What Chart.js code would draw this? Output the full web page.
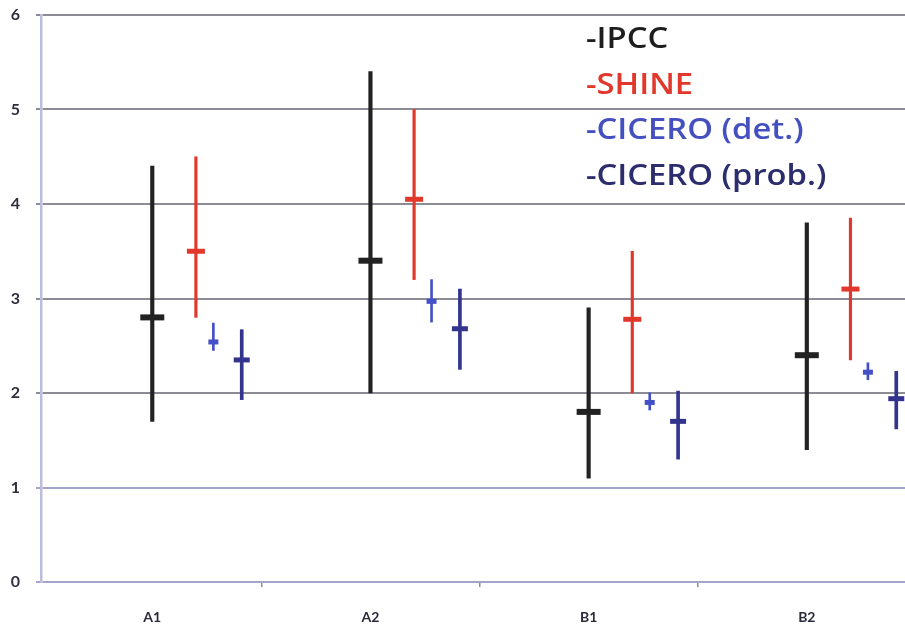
<!DOCTYPE html>
<html>
<head>
<meta charset="utf-8">
<script src="https://cdn.jsdelivr.net/npm/chart.js@4.4.1/dist/chart.umd.min.js"></script>
<style>
    html, body { margin: 0; padding: 0; background: #fff; }
    #wrap { width: 905px; height: 628px; }
</style>
</head>
<body>
<div id="wrap"><canvas id="rangeChart"></canvas></div>
<script>
// Scenarios along the x axis
const scenarios = ['A1', 'A2', 'B1', 'B2'];
const yTicks = [0, 1, 2, 3, 4, 5, 6];

// IPCC
const ipccLow  = [1.7, 2.0, 1.1, 1.4];
const ipccHigh = [4.4, 5.4, 2.9, 3.8];
const ipccMid  = [2.8, 3.4, 1.8, 2.4];

// SHINE
const shineLow  = [2.8, 3.2, 2.0, 2.35];
const shineHigh = [4.5, 5.0, 3.5, 3.85];
const shineMid  = [3.5, 4.05, 2.78, 3.1];

// CICERO (det.)
const detLow  = [2.45, 2.75, 1.82, 2.14];
const detHigh = [2.74, 3.2, 2.0, 2.32];
const detMid  = [2.54, 2.97, 1.9, 2.22];

// CICERO (prob.)
const probLow  = [1.93, 2.25, 1.3, 1.62];
const probHigh = [2.67, 3.1, 2.02, 2.23];
const probMid  = [2.35, 2.68, 1.7, 1.94];

// series layout: offset from the scenario position, colours and widths
const series = [
    { label: '-IPCC',           low: ipccLow,  high: ipccHigh,  mid: ipccMid,  offset: 0,    color: '#222222', text: '#1e1e1e', line: 3.5, cap: 12, capW: 6 },
    { label: '-SHINE',          low: shineLow, high: shineHigh, mid: shineMid, offset: 0.2,  color: '#e2372b', text: '#e2372b', line: 2.5, cap: 9,  capW: 5 },
    { label: '-CICERO (det.)',  low: detLow,   high: detHigh,   mid: detMid,   offset: 0.28, color: '#4450c8', text: '#4450c0', line: 2,   cap: 5,  capW: 5 },
    { label: '-CICERO (prob.)', low: probLow,  high: probHigh,  mid: probMid,  offset: 0.41, color: '#33348e', text: '#2b2d6c', line: 3,   cap: 8,  capW: 5 }
];

const datasets = [];
series.forEach(function(s) {
    datasets.push({
        type: 'bar',
        label: s.label,
        data: scenarios.map(function(_, i) { return { x: i + s.offset, y: [s.low[i], s.high[i]] }; }),
        backgroundColor: s.color,
        barThickness: s.line,
        grouped: false,
        order: 2
    });
    datasets.push({
        type: 'scatter',
        label: s.label + ' mid',
        data: scenarios.map(function(_, i) { return { x: i + s.offset, y: s.mid[i] }; }),
        pointStyle: 'line',
        pointRadius: s.cap,
        borderColor: s.color,
        pointBorderWidth: s.capW,
        order: 1
    });
});

// text legend drawn in the upper right of the plot, slightly widened
const textLegend = {
    id: 'textLegend',
    afterDraw: function(chart) {
        const ctx = chart.ctx;
        const rows = [40, 86, 131, 177];
        series.forEach(function(s, i) {
            ctx.save();
            ctx.translate(586, rows[i]);
            ctx.scale(1.13, 1);
            ctx.font = '600 29px "Open Sans", Lato, sans-serif';
            ctx.textBaseline = 'middle';
            ctx.textAlign = 'left';
            ctx.fillStyle = s.text;
            ctx.fillText(s.label, 0, 0);
            ctx.restore();
        });
    }
};

new Chart(document.getElementById('rangeChart').getContext('2d'), {
    data: { datasets: datasets },
    options: {
        responsive: true,
        maintainAspectRatio: false,
        animation: false,
        layout: { autoPadding: false, padding: { top: 15, right: 0, left: 0, bottom: 0 } },
        plugins: {
            legend: { display: false },
            tooltip: { enabled: false }
        },
        scales: {
            x: {
                type: 'linear',
                offset: false,
                min: -0.51,
                max: 3.45,
                afterBuildTicks: function(scale) {
                    scale.ticks = [0, 0.5, 1, 1.5, 2, 2.5, 3].map(function(v) { return { value: v }; });
                },
                afterFit: function(scale) {
                    scale.height = 46;
                    scale.paddingRight = 0;
                },
                ticks: {
                    autoSkip: false,
                    maxRotation: 0,
                    padding: 22,
                    color: '#2a2a3a',
                    font: { family: 'Lato, sans-serif', size: 14, weight: 'bold' },
                    callback: function(value) {
                        return Number.isInteger(value) ? scenarios[value] : '';
                    }
                },
                grid: {
                    offset: false,
                    drawOnChartArea: false,
                    tickLength: 5,
                    lineWidth: 1.5,
                    color: function(c) {
                        return c.tick && Number.isInteger(c.tick.value) ? 'rgba(0,0,0,0)' : '#8a8aa0';
                    }
                },
                border: { display: false }
            },
            y: {
                min: 0,
                max: 6,
                afterBuildTicks: function(scale) {
                    scale.ticks = yTicks.map(function(v) { return { value: v }; });
                },
                afterFit: function(scale) {
                    scale.width = 41;
                    scale.paddingTop = 0;
                    scale.paddingBottom = 0;
                },
                ticks: {
                    padding: 16,
                    color: '#2e2e3e',
                    font: { family: 'Lato, sans-serif', size: 16, weight: 'bold' }
                },
                grid: {
                    tickLength: 5,
                    lineWidth: 2,
                    color: function(c) {
                        return c.tick && c.tick.value <= 1 ? '#a4a4c8' : '#8c8c94';
                    }
                },
                border: { color: '#bcbcdc', width: 2.5 }
            }
        }
    },
    plugins: [textLegend]
});
</script>
</body>
</html>
